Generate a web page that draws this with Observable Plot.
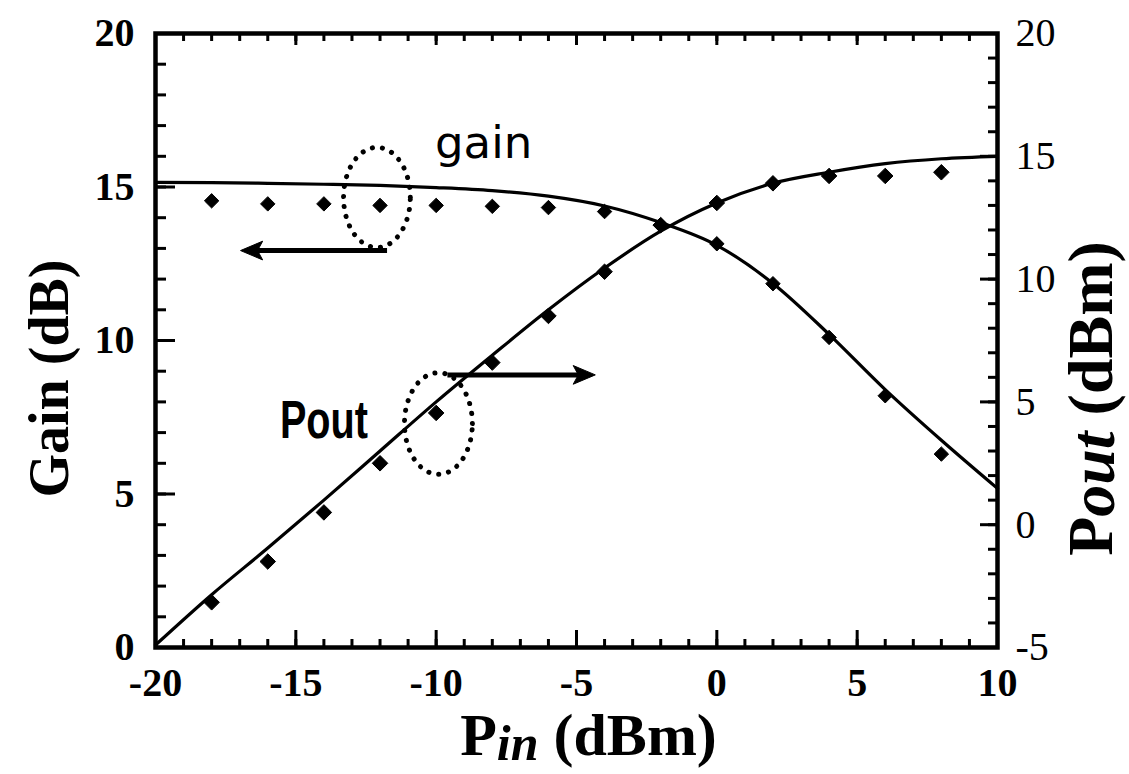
<!DOCTYPE html>
<html>
<head>
<meta charset="utf-8">
<script src="https://cdn.jsdelivr.net/npm/d3@7"></script>
<script src="https://cdn.jsdelivr.net/npm/@observablehq/plot@0.6"></script>
<style>
  html, body { margin: 0; padding: 0; background: #fff; }
  #chart svg { display: block; }
</style>
</head>
<body>
<div id="chart"></div>
<script>
// ---- Data ----
const pinMeasured  = [-18, -16, -14, -12, -10, -8, -6, -4, -2, 0, 2, 4, 6, 8];
const gainMeasured = [14.55, 14.45, 14.45, 14.4, 14.4, 14.37, 14.33, 14.2, 13.75, 13.15, 11.85, 10.1, 8.2, 6.3];
const poutMeasured = [-3.16, -1.5, 0.5, 2.5, 4.55, 6.6, 8.5, 10.3, 12.2, 13.1, 13.9, 14.2, 14.2, 14.35];

const pinFit  = [-20, -18, -16, -14, -12, -10, -8, -6, -4, -2, 0, 2, 4, 6, 8, 10];
const gainFit = [15.15, 15.14, 15.12, 15.09, 15.05, 14.98, 14.88, 14.7, 14.38, 13.84, 13.1, 11.86, 10.2, 8.4, 6.75, 5.18];
const poutFit = [-4.9, -2.85, -0.95, 1.0, 3.0, 5.0, 6.9, 8.75, 10.45, 11.95, 13.1, 13.9, 14.35, 14.7, 14.9, 15.0];

// axes
const pinDomain  = [-20, 10];
const gainDomain = [0, 20];
const poutDomain = [-5, 20];
const pinTicks   = [-20, -15, -10, -5, 0, 5, 10];
const gainTicks  = [0, 5, 10, 15, 20];
const poutTicks  = [-5, 0, 5, 10, 15, 20];
const pinMinor   = d3.range(-20, 11, 1);
const gainMinor  = d3.range(0, 21, 1);
const poutMinor  = d3.range(-5, 21, 1);

// texts
const xTitle = "Pin (dBm)";
const yTitle = "Gain (dB)";
const y2Title = "Pout (dBm)";
const gainLabel = "gain";
const poutLabel = "Pout";

// annotations (data units; Pout ones on the right axis)
const gainEllipse = {cx: -12.11, cy: 14.66, rx: 1.19, ry: 1.63};
const poutEllipse = {cx: -9.92, cy: 4.12, rx: 1.21, ry: 2.07};
const gainArrow = {x1: -11.75, x2: -16.97, y: 12.93};
const poutArrow = {x1: -9.6, x2: -4.33, y: 6.1};

// ---- Build ----
const toG = d3.scaleLinear(poutDomain, gainDomain); // right axis -> left axis units

const meas = pinMeasured.map((x, i) => ({x, gain: gainMeasured[i], pout: poutMeasured[i]}));
const fit = pinFit.map((x, i) => ({x, gain: gainFit[i], pout: poutFit[i]}));

function ellipsePts(e, conv) {
  return d3.range(0, 361, 4).map(a => {
    const t = a * Math.PI / 180;
    return {x: e.cx + e.rx * Math.cos(t), y: conv(e.cy + e.ry * Math.sin(t))};
  });
}
const ident = v => v;

const arrowHead = {
  draw(ctx, size) {
    const k = Math.sqrt(size / Math.PI);
    ctx.moveTo(0, 0);
    ctx.lineTo(-2.6 * k, -1.1 * k);
    ctx.lineTo(-2.0 * k, 0);
    ctx.lineTo(-2.6 * k, 1.1 * k);
    ctx.closePath();
  }
};

const serif = "'Liberation Serif','Times New Roman',serif";
const tickStyle = {stroke: "black", strokeWidth: 3, fill: "none", label: null};
const labelStyle = {tickSize: 0, label: null, fontSize: 40, fontFamily: serif};

const chart = Plot.plot({
  width: 1129,
  height: 774,
  marginLeft: 155,
  marginRight: 132,
  marginTop: 33,
  marginBottom: 127,
  x: {domain: pinDomain},
  y: {domain: gainDomain},
  style: {background: "white", color: "black", fontFamily: serif},
  marks: [
    // fitted curves
    Plot.line(fit, {x: "x", y: "gain", curve: "monotone-x", stroke: "black", strokeWidth: 3.2}),
    Plot.line(fit, {x: "x", y: d => toG(d.pout), curve: "monotone-x", stroke: "black", strokeWidth: 3.2}),
    // measured points
    Plot.dot(meas, {x: "x", y: "gain", symbol: "diamond2", r: 6.5, fill: "black", stroke: "black", strokeWidth: 1}),
    Plot.dot(meas, {x: "x", y: d => toG(d.pout), symbol: "diamond2", r: 7, fill: "black", stroke: "black", strokeWidth: 1}),
    // dotted ellipses
    Plot.line(ellipsePts(gainEllipse, ident), {x: "x", y: "y", stroke: "black", strokeWidth: 5, strokeDasharray: "0.1 10", strokeLinecap: "round"}),
    Plot.line(ellipsePts(poutEllipse, toG), {x: "x", y: "y", stroke: "black", strokeWidth: 5, strokeDasharray: "0.1 10", strokeLinecap: "round"}),
    // arrows
    Plot.link([gainArrow], {x1: "x1", x2: d => d.x2 + 0.5, y1: "y", y2: "y", stroke: "black", strokeWidth: 5}),
    Plot.dot([gainArrow], {x: "x2", y: "y", symbol: arrowHead, r: 8.5, rotate: 180, fill: "black", stroke: "black", strokeWidth: 1}),
    Plot.link([poutArrow], {x1: "x1", x2: d => d.x2 - 0.5, y1: d => toG(d.y), y2: d => toG(d.y), stroke: "black", strokeWidth: 5}),
    Plot.dot([poutArrow], {x: "x2", y: d => toG(d.y), symbol: arrowHead, r: 8.5, rotate: 0, fill: "black", stroke: "black", strokeWidth: 1}),
    // in-plot labels
    Plot.text([{x: -8.31, y: 15.95, t: gainLabel}], {x: "x", y: "y", text: "t", fontFamily: "'DejaVu Sans', sans-serif", fontSize: 45, lineAnchor: "bottom", textAnchor: "middle", fill: "black"}),
    Plot.text([{x: -14.0, y: 6.84, t: poutLabel}], {x: "x", y: "y", text: "t", fontFamily: "'Liberation Sans', Arial, sans-serif", fontWeight: "bold", fontSize: 54, lineAnchor: "bottom", textAnchor: "middle", fill: "black"}),
    // frame
    Plot.frame({stroke: "black", strokeWidth: 4.5}),
    // inward ticks
    Plot.axisX(pinMinor, {anchor: "bottom", tickSize: -8, ...tickStyle}),
    Plot.axisX(pinTicks, {anchor: "bottom", tickSize: -17, ...tickStyle}),
    Plot.axisX(pinMinor, {anchor: "top", tickSize: -7, ...tickStyle}),
    Plot.axisX(pinTicks, {anchor: "top", tickSize: -11, ...tickStyle}),
    Plot.axisY(gainMinor, {anchor: "left", tickSize: -11, ...tickStyle}),
    Plot.axisY(gainTicks, {anchor: "left", tickSize: -20, ...tickStyle}),
    Plot.axisY(poutMinor.map(v => toG(v)), {anchor: "right", tickSize: -10, ...tickStyle}),
    Plot.axisY(poutTicks.map(v => toG(v)), {anchor: "right", tickSize: -18, ...tickStyle}),
    // tick labels
    Plot.axisX(pinTicks, {anchor: "bottom", tickPadding: 20, tickFormat: d => String(d), fontWeight: "bold", ...labelStyle}),
    Plot.axisY(gainTicks, {anchor: "left", tickPadding: 21, tickFormat: d => String(d), fontWeight: "bold", ...labelStyle}),
    Plot.axisY(poutTicks.map(v => toG(v)), {anchor: "right", tickPadding: 18, tickFormat: d => String(Math.round(toG.invert(d))), fontWeight: "normal", ...labelStyle}),
    // axis titles
    Plot.text([xTitle], {frameAnchor: "bottom", dx: 12, dy: 107, lineAnchor: "bottom", textAnchor: "middle", fontSize: 60, fontWeight: "bold", fontFamily: serif, fill: "black"}),
    Plot.text([yTitle], {frameAnchor: "left", rotate: -90, dx: -88, dy: 38, lineAnchor: "bottom", textAnchor: "middle", fontSize: 56, fontWeight: "bold", fontFamily: serif, fill: "black"}),
    Plot.text([y2Title], {frameAnchor: "right", rotate: -90, dx: 114, dy: 58, lineAnchor: "bottom", textAnchor: "middle", fontSize: 64, fontWeight: "bold", fontFamily: serif, fill: "black"})
  ]
});

document.getElementById("chart").appendChild(chart);

// rich text for titles (subscripts in italic)
function richify(content, parts) {
  d3.select(chart).selectAll("text").filter(function() { return this.textContent === content; }).each(function() {
    const t = d3.select(this);
    t.text(null);
    for (const p of parts) {
      const s = t.append("tspan").text(p.text);
      if (p.italic) s.attr("font-style", "italic");
      if (p.dy) s.attr("dy", p.dy);
      if (p.size) s.attr("font-size", p.size);
    }
  });
}
richify(xTitle, [{text: "P"}, {text: "in", italic: true, dy: 5, size: 50}, {text: " (dBm)", dy: -5}]);
richify(y2Title, [{text: "P"}, {text: "out", italic: true, dy: 2}, {text: " (dBm)", dy: -2}]);
// condensed "Pout" annotation
d3.select(chart).selectAll("text").filter(function() { return this.textContent === poutLabel; })
  .attr("textLength", 88).attr("lengthAdjust", "spacingAndGlyphs");
</script>
</body>
</html>
